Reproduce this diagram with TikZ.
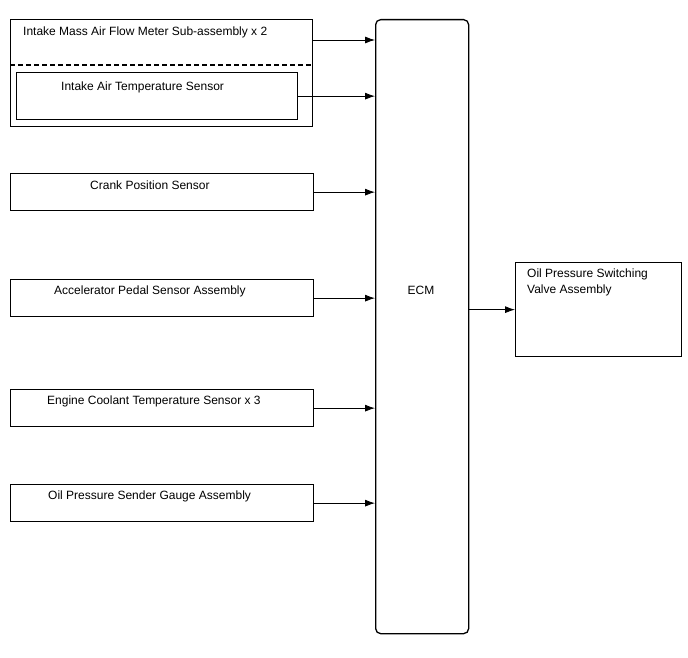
\documentclass[tikz,border=0pt]{standalone}
\usepackage{fontspec}
\setmainfont{Liberation Sans}
\usetikzlibrary{arrows.meta, positioning}

\begin{document}
\begin{tikzpicture}[x=1pt, y=-1pt,
                    box/.style={draw, line width=1.3pt, anchor=north west, inner sep=0pt},
                    lbl/.style={font=\fontsize{12}{16}\selectfont, inner sep=0pt, anchor=west},
                    sig/.style={draw, line width=0.8pt, -{Latex[length=10pt, width=7pt]}}]

        \useasboundingbox (0,0) rectangle (688,658);

        % ECM in the middle
        \node[box, rounded corners=5pt, minimum width=93pt, minimum height=614pt] (ecm) at (375,19) {};
        \node[lbl, anchor=center] (ecmtxt) at (421,290) {ECM};

        % Mass air flow meter, holding the intake air temperature sensor
        \node[box, minimum width=302pt, minimum height=107pt] (maf) at (10,19) {};
        \node[lbl] (maftxt) at (23,32) {Intake Mass Air Flow Meter Sub-assembly x 2};
        \coordinate (dashl) at (10,65);
        \coordinate (dashr) at (312,65);
        \draw[dash pattern=on 5pt off 3pt, line width=1.2pt] (dashl) -- (dashr);
        \node[box, minimum width=281pt, minimum height=47pt] (iat) at (16,72) {};
        \node[lbl] (iattxt) at (61,87) {Intake Air Temperature Sensor};

        % Other sensors
        \node[box, minimum width=303pt, minimum height=37pt] (crank) at (10,173) {};
        \node[lbl] (cranktxt) at (90,185) {Crank Position Sensor};
        \node[box, minimum width=303pt, minimum height=37pt] (accel) at (10,279) {};
        \node[lbl] (acceltxt) at (54,291) {Accelerator Pedal Sensor Assembly};
        \node[box, minimum width=303pt, minimum height=37pt] (coolant) at (10,389) {};
        \node[lbl] (coolanttxt) at (47,401) {Engine Coolant Temperature Sensor x 3};
        \node[box, minimum width=303pt, minimum height=37pt] (oilsend) at (10,484) {};
        \node[lbl] (oilsendtxt) at (48,496) {Oil Pressure Sender Gauge Assembly};

        % Actuator
        \node[box, minimum width=166pt, minimum height=94pt] (ocv) at (515,262) {};
        \node[lbl, anchor=north west, align=left] (ocvtxt) at (527,269) {Oil Pressure Switching\\Valve Assembly};

        % Signals into the ECM
        \coordinate (mafout) at ([yshift=-21pt]maf.north east);
        \draw[sig] (mafout) -- (mafout -| ecm.west);
        \draw[sig] (iat.east) -- (iat.east -| ecm.west);
        \draw[sig] (crank.east) -- (crank.east -| ecm.west);
        \draw[sig] (accel.east) -- (accel.east -| ecm.west);
        \draw[sig] (coolant.east) -- (coolant.east -| ecm.west);
        \draw[sig] (oilsend.east) -- (oilsend.east -| ecm.west);

        % Signal out of the ECM
        \draw[sig] (ocv.west -| ecm.east) -- (ocv.west);

\end{tikzpicture}
\end{document}
